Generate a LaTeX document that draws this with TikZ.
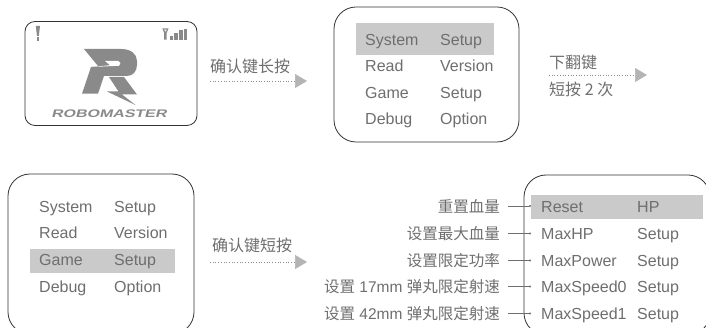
\documentclass[tikz,border=0pt]{standalone}
\usepackage{fontspec}
\setmainfont{Liberation Sans}
\newfontfamily\cjk{Noto Sans CJK SC}
\newfontfamily\logofont[FakeSlant=0.25,FakeStretch=1.45]{Liberation Sans Bold}
\usetikzlibrary{arrows.meta}
\definecolor{inkgray}{HTML}{6E6E6E}
\definecolor{barfill}{HTML}{C9CAC9}
\definecolor{logogray}{HTML}{8A8A8A}
\definecolor{tipgray}{HTML}{B4B4B4}
\begin{document}
\begin{tikzpicture}[x=1pt,y=-1pt]
\tikzset{every node/.style={font=\fontsize{16}{16}\selectfont, text=inkgray, inner sep=0pt}}
\tikzset{menutext/.style={anchor=west, text height=12.5pt, text depth=0pt}}
\tikzset{screenbox/.style={draw=black!80, line width=0.8pt, rounded corners=22pt}}
\tikzset{menubar/.style={fill=barfill}}
\tikzset{keytext/.style={anchor=west, font=\fontsize{16}{16}\selectfont\cjk}}
\tikzset{keyarrow/.style={draw=gray!90, line width=0.7pt, dotted, -{Triangle[length=12pt,width=14pt,color=tipgray]}}}
\tikzset{itemlabel/.style={anchor=east, inner xsep=8pt, text height=12.5pt, text depth=0pt, font=\fontsize{15.5}{16}\selectfont}}
\tikzset{itemlink/.style={draw=inkgray, line width=0.6pt, -{Circle[length=2pt]}}}

\clip (0,0) rectangle (706,328);

% Nodes for screens
\node[screenbox, rounded corners=10pt, minimum width=172, minimum height=104] at (111,73.5) (logoscreen) {};
\node[screenbox, minimum width=185, minimum height=135] at (426.5,74.5) (mainscreen) {};
\node[screenbox, minimum width=186, minimum height=160] at (101,254) (gamescreen) {};
\node[screenbox, minimum width=186, minimum height=160] at (617,255) (resetscreen) {};

% Bars for selected lines
\node[menubar, minimum width=138, minimum height=32] at (425,39) (mainbar) {};
\node[menubar, minimum width=145, minimum height=24] at (102.5,261) (gamebar) {};
\node[menubar, minimum width=172, minimum height=24] at (617,207) (resetbar) {};

% Logo screen
\fill[logogray] (35.8,26) -- (40,26) -- (38.8,36) -- (37,36) -- cycle;
\fill[logogray] (36.6,37.5) rectangle (39.4,41);
\fill[logogray] (162.3,28.5) -- (168.5,28.5) -- (166.6,33) -- (166.6,39.7) -- (164.2,39.7) -- (164.2,33) -- cycle;
\fill[white] (164.2,29.6) -- (166.6,29.6) -- (165.4,31.6) -- cycle;
\fill[logogray] (170,36.5) rectangle (173,40);
\fill[logogray] (174,33.5) rectangle (177.5,40);
\fill[logogray] (178.5,30.5) rectangle (182.5,40);
\fill[logogray] (183.5,28.7) rectangle (187,40);
\fill[logogray] (84,49) -- (121,49) .. controls (131,49) and (137,54) .. (137,61) -- (137,65) .. controls (137,71) and (133,76) .. (127,76) -- (104,76) -- (98,93.7) -- (82,93.7) -- (91,67) -- (98,66) -- cycle;
\fill[white] (91,67) -- (119,65.8) .. controls (121,64.5) and (121,61.5) .. (118.5,61) -- (105,61) -- (110,65.2) -- cycle;
\fill[logogray] (109,77) -- (124,77) -- (137,94.5) -- (122,94.5) -- (135.5,105) -- (107,91.5) -- (118.5,91.5) -- cycle;
\node[font=\fontsize{11}{11}\selectfont\logofont, text=logogray] at (109,114) (logotext) {ROBOMASTER};

% Nodes for main menu
\node[menutext] at (365,39) (systemA) {System};
\node[menutext] at (440,39) (systemB) {Setup};
\node[menutext] at (365,65) (readA) {Read};
\node[menutext] at (440,65) (readB) {Version};
\node[menutext] at (365,92) (gameA) {Game};
\node[menutext] at (440,92) (gameB) {Setup};
\node[menutext] at (365,118) (debugA) {Debug};
\node[menutext] at (440,118) (debugB) {Option};

% Nodes for main menu, game line selected
\node[menutext] at (39,206) (systemC) {System};
\node[menutext] at (114,206) (systemD) {Setup};
\node[menutext] at (39,232) (readC) {Read};
\node[menutext] at (114,232) (readD) {Version};
\node[menutext] at (39,259) (gameC) {Game};
\node[menutext] at (114,259) (gameD) {Setup};
\node[menutext] at (39,286) (debugC) {Debug};
\node[menutext] at (114,286) (debugD) {Option};

% Nodes for game menu
\node[menutext, inner xsep=10pt] at (531,206) (reset) {Reset};
\node[menutext] at (637,206) (resetB) {HP};
\node[menutext, inner xsep=10pt] at (531,233.5) (maxhp) {MaxHP};
\node[menutext] at (637,233.5) (maxhpB) {Setup};
\node[menutext, inner xsep=10pt] at (531,260.5) (maxpower) {MaxPower};
\node[menutext] at (637,260.5) (maxpowerB) {Setup};
\node[menutext, inner xsep=10pt] at (531,286.5) (speedzero) {MaxSpeed0};
\node[menutext] at (637,286.5) (speedzeroB) {Setup};
\node[menutext, inner xsep=10pt] at (531,313.5) (speedone) {MaxSpeed1};
\node[menutext] at (637,313.5) (speedoneB) {Setup};

% Nodes for item labels
\node[itemlabel] at (508,206) (resetlabel) {\cjk 重置血量};
\node[itemlabel] at (508,233.5) (maxhplabel) {\cjk 设置最大血量};
\node[itemlabel] at (508,260.5) (maxpowerlabel) {\cjk 设置限定功率};
\node[itemlabel] at (508,286.5) (speedzerolabel) {{\cjk 设置} 17mm {\cjk 弹丸限定射速}};
\node[itemlabel] at (508,313.5) (speedonelabel) {{\cjk 设置} 42mm {\cjk 弹丸限定射速}};

% Lines for item labels
\draw[itemlink] (resetlabel.east) -- (reset.west);
\draw[itemlink] (maxhplabel.east) -- (maxhp.west);
\draw[itemlink] (maxpowerlabel.east) -- (maxpower.west);
\draw[itemlink] (speedzerolabel.east) -- (speedzero.west);
\draw[itemlink] (speedonelabel.east) -- (speedone.west);

% Arrows between screens
\node[keytext] at (210,66) (longpress) {确认键长按};
\coordinate (longA) at (210,81);
\coordinate (longB) at (307,81);
\draw[keyarrow] (longA) -- (longB);

\node[keytext] at (549,62) (pagedown) {下翻键};
\node[keytext] at (549,89) (pagetwice) {短按 2 次};
\coordinate (downA) at (549,75);
\coordinate (downB) at (647,75);
\draw[keyarrow] (downA) -- (downB);

\node[keytext] at (212,245) (shortpress) {确认键短按};
\coordinate (shortA) at (210,262);
\coordinate (shortB) at (307,262);
\draw[keyarrow] (shortA) -- (shortB);
\end{tikzpicture}
\end{document}
